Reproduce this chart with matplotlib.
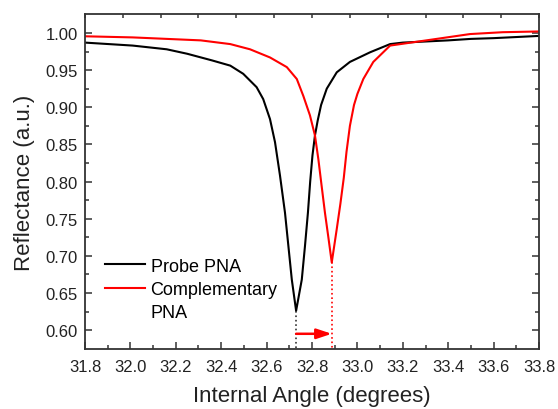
import numpy as np
import matplotlib
matplotlib.use("Agg")
import matplotlib.pyplot as plt
from matplotlib.lines import Line2D

plt.rcParams['font.family'] = ['Liberation Sans', 'DejaVu Sans']

# curves
probe_angle = [31.80, 32.01, 32.16, 32.25, 32.36, 32.44, 32.497, 32.556, 32.585,
               32.615, 32.637, 32.659, 32.681, 32.696, 32.711, 32.73, 32.755,
               32.769, 32.782, 32.792, 32.802, 32.813, 32.825, 32.840, 32.865,
               32.909, 32.967, 33.056, 33.144, 33.20, 33.40, 33.50, 33.60, 33.80]
probe_refl = [0.987, 0.983, 0.978, 0.972, 0.963, 0.956, 0.945, 0.927, 0.911,
              0.884, 0.853, 0.808, 0.758, 0.713, 0.668, 0.626, 0.668,
              0.713, 0.758, 0.800, 0.835, 0.862, 0.882, 0.903, 0.925,
              0.947, 0.961, 0.974, 0.985, 0.987, 0.990, 0.992, 0.993, 0.996]

comp_angle = [31.80, 32.01, 32.16, 32.31, 32.44, 32.527, 32.615, 32.689, 32.733,
              32.762, 32.791, 32.813, 32.828, 32.840, 32.857, 32.872, 32.887,
              32.909, 32.925, 32.940, 32.952, 32.967, 32.985, 33.000, 33.026,
              33.07, 33.144, 33.349, 33.496, 33.64, 33.80]
comp_refl = [0.9955, 0.994, 0.992, 0.990, 0.985, 0.978, 0.967, 0.954, 0.938,
             0.915, 0.889, 0.862, 0.830, 0.800, 0.758, 0.725, 0.691,
             0.736, 0.770, 0.805, 0.840, 0.875, 0.903, 0.918, 0.938,
             0.961, 0.983, 0.992, 0.9985, 1.001, 1.002]

# shift arrow between the two minima
shift_start = 32.73
shift_end = 32.887
arrow_level = 0.595

axis_col = '#333333'

fig = plt.figure(figsize=(5.58, 4.10), dpi=100)
ax = fig.add_axes([0.1523, 0.1463, 0.8137, 0.8171])

ax.plot(probe_angle, probe_refl, color='black', lw=1.5)
ax.plot(comp_angle, comp_refl, color='#ff0000', lw=1.5)

# dotted drop lines from the minima
ax.plot([shift_start, shift_start], [min(probe_refl), 0.575], color='#333333', ls=':', lw=1.2)
ax.plot([shift_end, shift_end], [min(comp_refl), 0.575], color='#ff0000', ls=':', lw=1.2)
ax.annotate('', xy=(shift_end, arrow_level), xytext=(shift_start, arrow_level),
            arrowprops=dict(arrowstyle='-|>,head_length=0.9,head_width=0.3',
                            color='#ff0000', lw=1.8, shrinkA=0, shrinkB=0))

ax.set_xlim(31.8, 33.8)
ax.set_ylim(0.5745, 1.0255)
ax.set_xticks(np.arange(31.8, 33.81, 0.2))
ax.set_xticks(np.arange(31.9, 33.8, 0.2), minor=True)
ax.set_yticks(np.arange(0.60, 1.001, 0.05))
ax.set_yticks(np.arange(0.625, 1.01, 0.05), minor=True)
ax.xaxis.set_major_formatter(matplotlib.ticker.FormatStrFormatter('%.1f'))
ax.yaxis.set_major_formatter(matplotlib.ticker.FormatStrFormatter('%.2f'))

ax.tick_params(which='both', direction='in', colors=axis_col, labelcolor='#222222',
               labelsize=12, right=True, top=False)
ax.tick_params(which='major', length=5, width=1.1)
ax.tick_params(which='minor', length=3, width=1.1)
ax.tick_params(axis='x', pad=7)
ax.tick_params(axis='y', pad=5)

# top axis carries its own evenly spaced ticks
top = ax.secondary_xaxis('top')
top.set_xticks(np.linspace(31.8, 33.8, 13))
top.tick_params(direction='in', length=3, width=1.1, colors=axis_col, labeltop=False)
top.spines['top'].set_visible(False)

for s in ax.spines.values():
    s.set_color(axis_col)
    s.set_linewidth(1.3)

ax.set_xlabel('Internal Angle (degrees)', fontsize=16, color='#222222', labelpad=8)
ax.set_ylabel('Reflectance (a.u.)', fontsize=16, color='#222222', labelpad=8)

handles = [Line2D([], [], color='black', lw=1.5),
           Line2D([], [], color='#ff0000', lw=1.5),
           Line2D([], [], color='none')]
ax.legend(handles, ['Probe PNA', 'Complementary', 'PNA'],
          loc='upper left', bbox_to_anchor=(0.045, 0.273), frameon=False,
          fontsize=13, handlelength=2.2, handletextpad=0.3, borderpad=0,
          borderaxespad=0, labelspacing=0.35)

fig.savefig('out.png', dpi=100)
